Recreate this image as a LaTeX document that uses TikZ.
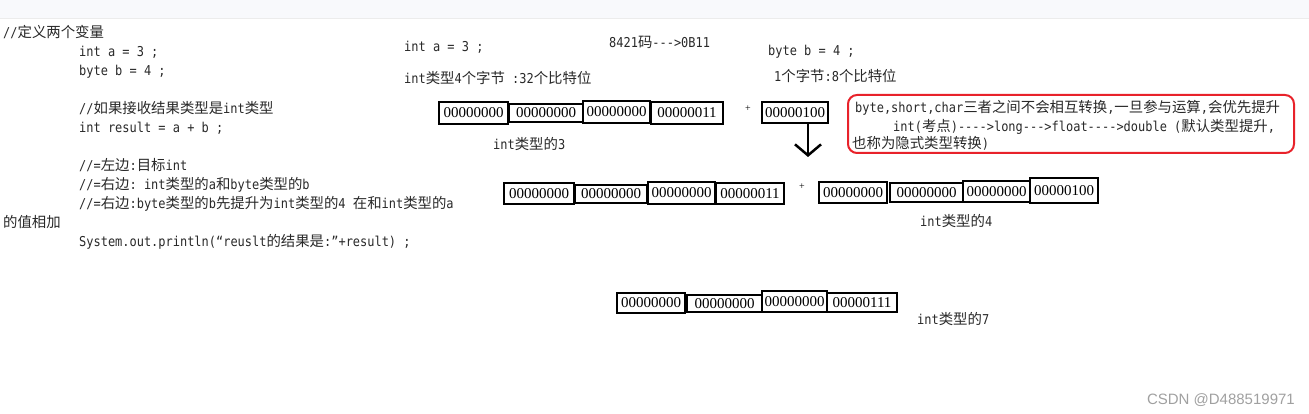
\documentclass[tikz,border=0pt]{standalone}
\usepackage{fontspec}
\setmainfont{Liberation Serif}
\setmonofont{DejaVu Sans Mono}[FakeStretch=0.88]
\newfontfamily\cjk{Noto Sans CJK SC}
\newfontfamily\wmfont{Liberation Sans}
\usetikzlibrary{arrows.meta}

\newcommand{\zh}[1]{{\cjk\fontsize{14.4}{17}\selectfont #1}}
\definecolor{notered}{RGB}{232,34,42}
\definecolor{topbar}{RGB}{248,249,252}
\definecolor{markgray}{RGB}{160,160,160}
\definecolor{ink}{RGB}{40,40,40}

\begin{document}
\begin{tikzpicture}[x=1pt,y=-1pt,
      code/.style={anchor=base west,inner sep=0pt,text=ink,
                   font=\ttfamily\fontsize{13.6}{16}\selectfont},
      bits/.style={draw,line width=2.6pt,inner sep=0pt,
                   font=\fontsize{15}{16}\selectfont},
      plus/.style={inner sep=0pt,font=\fontsize{10}{10}\selectfont}]
          \tikzstyle{promote}=[line width=2.5pt,
                               -{Straight Barb[length=11pt,width=26pt]}]

          \useasboundingbox (0,0) rectangle (1309,414);
          \fill[topbar] (0,0) rectangle (1309,18);
          \draw[gray!15] (0,18.5) -- (1309,18.5);

          % left: the java code
          \node[code] (def)   at (3,38)   {//\zh{定义两个变量}};
          \node[code] (inta)  at (79,57)  {int a = 3 ;};
          \node[code] (byteb) at (79,76)  {byte b = 4 ;};
          \node[code] (cmt1)  at (79,114) {//\zh{如果接收结果类型是}int\zh{类型}};
          \node[code] (res)   at (79,133) {int result = a + b ;};
          \node[code] (cmt2)  at (79,171) {//=\zh{左边}:\zh{目标}int};
          \node[code] (cmt3)  at (79,190) {//=\zh{右边}: int\zh{类型的}a\zh{和}byte\zh{类型的}b};
          \node[code] (cmt4)  at (79,209) {//=\zh{右边}:byte\zh{类型的}b\zh{先提升为}int\zh{类型的}4 \zh{在和}int\zh{类型的}a};
          \node[code] (cmt5)  at (3,228)  {\zh{的值相加}};
          \node[code] (print) at (79,247) {System.out.println(“reuslt\zh{的结果是}:”+result) ;};

          % headings
          \node[code] (ia)  at (404,52) {int a = 3 ;};
          \node[code] (bcd) at (609,48) {8421\zh{码}--->0B11};
          \node[code] (bb)  at (768,56) {byte b = 4 ;};
          \node[code] (isz) at (404,84) {int\zh{类型}4\zh{个字节} :32\zh{个比特位}};
          \node[code] (bsz) at (774,82) {1\zh{个字节}:8\zh{个比特位}};

          % int a = 3
          \node[bits,minimum width=69,minimum height=22] (a1) at (473.5,113) {00000000};
          \node[bits,minimum width=74,minimum height=18] (a2) at (546,113)   {00000000};
          \node[bits,minimum width=67,minimum height=22] (a3) at (616.5,112) {00000000};
          \node[bits,minimum width=72,minimum height=22] (a4) at (687,113)   {00000011};
          \node[plus] (p1) at (748,109) {+};
          \node[bits,minimum width=66,minimum height=21] (b1) at (795,112.5) {00000100};
          \node[code] (l3) at (493,150) {int\zh{类型的}3};

          \coordinate (tip) at (808,157);
          \draw[promote] (b1.south -| tip) -- (tip);

          % the rule box
          \node[draw=notered,line width=2pt,rounded corners=9pt,
                minimum width=446,minimum height=58,inner sep=0pt] (note) at (1071,124) {};
          \node[code] (rule1) at (855,113) {byte,short,char\zh{三者之间不会相互转换},\zh{一旦参与运算},\zh{会优先提升}};
          \node[code] (rule2) at (893,132) {int(\zh{考点})---->long--->float---->double (\zh{默认类型提升},};
          \node[code] (rule3) at (852,149) {\zh{也称为隐式类型转换})};

          % a + b as int
          \node[bits,minimum width=70,minimum height=21] (c1) at (539,193.5)  {00000000};
          \node[bits,minimum width=72,minimum height=18] (c2) at (611,194)    {00000000};
          \node[bits,minimum width=67,minimum height=22] (c3) at (681.5,193)  {00000000};
          \node[bits,minimum width=68,minimum height=21] (c4) at (750,193.5)  {00000011};
          \node[plus] (p2) at (802,187) {+};
          \node[bits,minimum width=68,minimum height=21] (d1) at (853,192.5)  {00000000};
          \node[bits,minimum width=73,minimum height=19] (d2) at (926.5,192.5){00000000};
          \node[bits,minimum width=67,minimum height=21] (d3) at (996.5,191.5){00000000};
          \node[bits,minimum width=68,minimum height=25] (d4) at (1064,190.5) {00000100};
          \node[code] (l4) at (920,227) {int\zh{类型的}4};

          % result
          \node[bits,minimum width=68,minimum height=20] (e1) at (651,303)    {00000000};
          \node[bits,minimum width=75,minimum height=17] (e2) at (724.5,303.5){00000000};
          \node[bits,minimum width=65,minimum height=21] (e3) at (794.5,301.5){00000000};
          \node[bits,minimum width=70,minimum height=19] (e4) at (862,302.5)  {00000111};
          \node[code] (l7) at (917,324) {int\zh{类型的}7};

          \node[anchor=base east,inner sep=0pt,text=markgray,
                font=\wmfont\fontsize{15}{15}\selectfont] (mark) at (1295,404) {CSDN @D488519971};

\end{tikzpicture}
\end{document}
